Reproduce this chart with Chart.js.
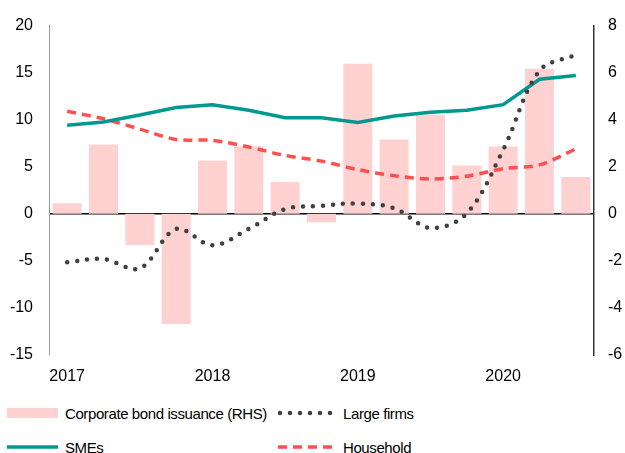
<!DOCTYPE html>
<html>
<head>
<meta charset="utf-8">
<script src="https://cdn.jsdelivr.net/npm/chart.js@4"></script>
<style>
  html, body { margin:0; padding:0; background:#fff; }
  body { width:625px; height:453px; position:relative; overflow:hidden; font-family:"Liberation Sans", Arial, sans-serif; }
  #chart-wrap { position:absolute; left:0; top:0; width:625px; height:395px; }
  #legend { position:absolute; left:7px; top:402px; width:615px; display:grid; grid-template-columns:271px 330px; row-gap:12px; font-size:15px; letter-spacing:-0.4px; color:#000; }
  .leg-item { display:flex; align-items:center; height:22px; white-space:nowrap; }
  .leg-swatch { height:22px; margin-right:7px; flex:none; }
</style>
</head>
<body>
<div id="chart-wrap"><canvas id="chart-credit"></canvas></div>
<div id="legend"></div>
<script>
const quarters = ['2017Q1','2017Q2','2017Q3','2017Q4','2018Q1','2018Q2','2018Q3','2018Q4',
                  '2019Q1','2019Q2','2019Q3','2019Q4','2020Q1','2020Q2','2020Q3'];
// RHS series
const bondIssuance = [0.45, 2.95, -1.33, -4.68, 2.27, 2.87, 1.35, -0.36, 6.38, 3.16, 4.2, 2.05, 2.86, 6.17, 1.56];
// LHS series
const largeFirms = [-5.15, -4.8, -5.8, -1.6, -3.35, -1.6, 0.5, 0.85, 1.1, 0.6, -1.5, 0.05, 6.8, 15.2, 16.9];
const smes       = [9.4, 9.75, 10.5, 11.3, 11.6, 11.0, 10.2, 10.2, 9.7, 10.4, 10.8, 11.0, 11.6, 14.3, 14.7];
const household  = [10.9, 10.1, 9.0, 7.9, 7.8, 7.1, 6.2, 5.6, 4.7, 4.05, 3.7, 4.0, 4.8, 5.2, 6.9];

const leftTicks  = [-15, -10, -5, 0, 5, 10, 15, 20];
const rightTicks = [-6, -4, -2, 0, 2, 4, 6, 8];

const PINK = '#FFD1D1', TEAL = '#00998F', RED = '#FF5050', DARK = '#404040';
const FONT = { family:'"Liberation Sans", Arial, sans-serif', size:16 };

Chart.defaults.font = FONT;
Chart.defaults.color = '#000';

const chart = new Chart(document.getElementById('chart-credit'), {
  type: 'bar',
  data: {
    labels: quarters,
    datasets: [{
      label: 'Corporate bond issuance (RHS)',
      data: bondIssuance,
      backgroundColor: PINK,
      yAxisID: 'y2',
      barPercentage: 0.8,
      categoryPercentage: 1,
      order: 4
    }, {
      label: 'Large firms',
      type: 'line',
      data: largeFirms,
      borderColor: DARK,
      borderWidth: 4.5,
      borderDash: [0, 10],
      borderCapStyle: 'round',
      tension: 0.35,
      pointRadius: 0,
      yAxisID: 'y',
      order: 1
    }, {
      label: 'SMEs',
      type: 'line',
      data: smes,
      borderColor: TEAL,
      borderWidth: 3.5,
      tension: 0,
      pointRadius: 0,
      yAxisID: 'y',
      order: 2
    }, {
      label: 'Household',
      type: 'line',
      data: household,
      borderColor: RED,
      borderWidth: 3.5,
      borderDash: [9, 6],
      tension: 0.3,
      pointRadius: 0,
      yAxisID: 'y',
      order: 3
    }]
  },
  options: {
    responsive: true, maintainAspectRatio: false, animation: false,
    layout: { padding: { top: 10.4, bottom: 0, left: 0, right: 0 } },
    plugins: { legend: { display: false }, tooltip: { enabled: false } },
    scales: {
      x: {
        grid: { display: false, drawTicks: false },
        border: { display: false },
        ticks: {
          autoSkip: false, maxRotation: 0, padding: 12,
          callback: (v, i) => quarters[i].endsWith('Q1') ? quarters[i].slice(0, 4) : ''
        },
        afterFit: s => { s.height = 40; }
      },
      y: {
        position: 'left', min: -15, max: 20,
        afterBuildTicks: s => { s.ticks = leftTicks.map(v => ({ value: v })); },
        grid: {
          drawTicks: false,
          lineWidth: 1.5,
          color: c => c.tick && c.tick.value === 0 ? '#000' : 'rgba(0,0,0,0)'
        },
        border: { display: true, color: '#999', width: 1 },
        ticks: { padding: 16 },
        afterFit: s => { s.width = 49; }
      },
      y2: {
        position: 'right', min: -6, max: 8,
        afterBuildTicks: s => { s.ticks = rightTicks.map(v => ({ value: v })); },
        grid: { display: false, drawTicks: false },
        border: { display: true, color: '#333', width: 1.5 },
        ticks: { padding: 14 },
        afterFit: s => { s.width = 31; }
      }
    }
  }
});

// legend built from the chart's datasets, two per row
const swatchWidths = [51, 58, 51, 58];
const swatch = (ds, w) => {
  if (ds.type !== 'line') {
    return `<svg class="leg-swatch" width="${w}" viewBox="0 0 ${w} 22"><rect x="0" y="6" width="${w}" height="10" fill="${ds.backgroundColor}"/></svg>`;
  }
  const dash = ds.borderDash ? `stroke-dasharray="${ds.borderDash.join(' ')}"` : '';
  const cap = ds.borderCapStyle === 'round' ? 'round' : 'butt';
  const x0 = cap === 'round' ? 2 : 0;
  return `<svg class="leg-swatch" width="${w}" viewBox="0 0 ${w} 22"><line x1="${x0}" y1="11" x2="${w}" y2="11" stroke="${ds.borderColor}"
    stroke-width="${ds.borderWidth}" stroke-linecap="${cap}" ${dash}/></svg>`;
};
document.getElementById('legend').innerHTML = chart.data.datasets.map((ds, i) =>
  `<div class="leg-item">${swatch(ds, swatchWidths[i])}<span>${ds.label}</span></div>`
).join('');
</script>
</body>
</html>
